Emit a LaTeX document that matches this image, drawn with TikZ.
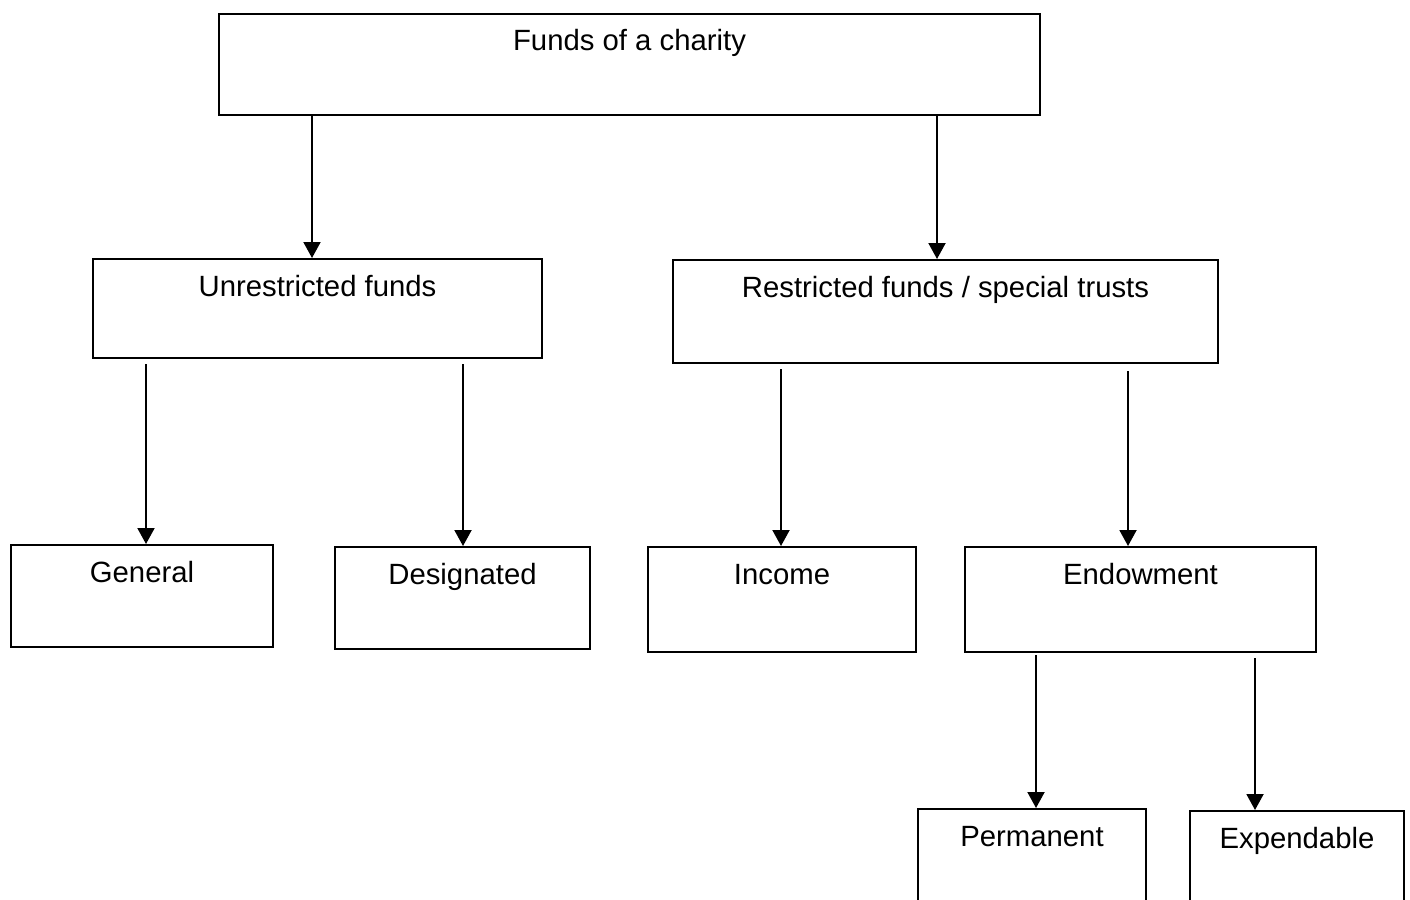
\documentclass[tikz,border=0pt]{standalone}
\usepackage{fontspec}
\setmainfont{Liberation Sans}
\usetikzlibrary{arrows.meta}

\begin{document}
\begin{tikzpicture}[x=1pt,y=-1pt,->,>={Triangle[width=17pt,length=16pt]},line width=2pt,
  box/.style={draw,rectangle,anchor=north,inner xsep=0pt,inner ysep=0pt,text height=37pt,
    font=\fontsize{29.3}{35}\selectfont}]
\clip (0,0) rectangle (1410,899);

\node[box,minimum width=821pt,text depth=64pt] (funds) at (629.5,13) {Funds of a charity};
\node[box,minimum width=449pt,text depth=62pt] (unres) at (317.5,258) {Unrestricted funds};
\node[box,minimum width=545pt,text depth=66pt] (res) at (945.5,259) {Restricted funds / special trusts};
\node[box,minimum width=262pt,text depth=65pt] (gen) at (142,544) {General};
\node[box,minimum width=255pt,text depth=65pt] (desig) at (462.5,546) {Designated};
\node[box,minimum width=268pt,text depth=68pt] (inc) at (782,546) {Income};
\node[box,minimum width=351pt,text depth=68pt] (endow) at (1140.5,546) {Endowment};
\node[box,minimum width=228pt,text depth=83pt] (perm) at (1032,808) {Permanent};
\node[box,minimum width=214pt,text depth=83pt] (expend) at (1297,810) {Expendable};

\draw (funds.south -| 312,0) -- (unres.north -| 312,0);
\draw (funds.south -| 937,0) -- (res.north -| 937,0);
\draw[shorten <=5pt] (unres.south -| 146,0) -- (gen.north -| 146,0);
\draw[shorten <=5pt] (unres.south -| 463,0) -- (desig.north -| 463,0);
\draw[shorten <=5pt] (res.south -| 781,0) -- (inc.north -| 781,0);
\draw[shorten <=7pt] (res.south -| 1128,0) -- (endow.north -| 1128,0);
\draw[shorten <=2pt] (endow.south -| 1036,0) -- (perm.north -| 1036,0);
\draw[shorten <=5pt] (endow.south -| 1255,0) -- (expend.north -| 1255,0);
\end{tikzpicture}
\end{document}
